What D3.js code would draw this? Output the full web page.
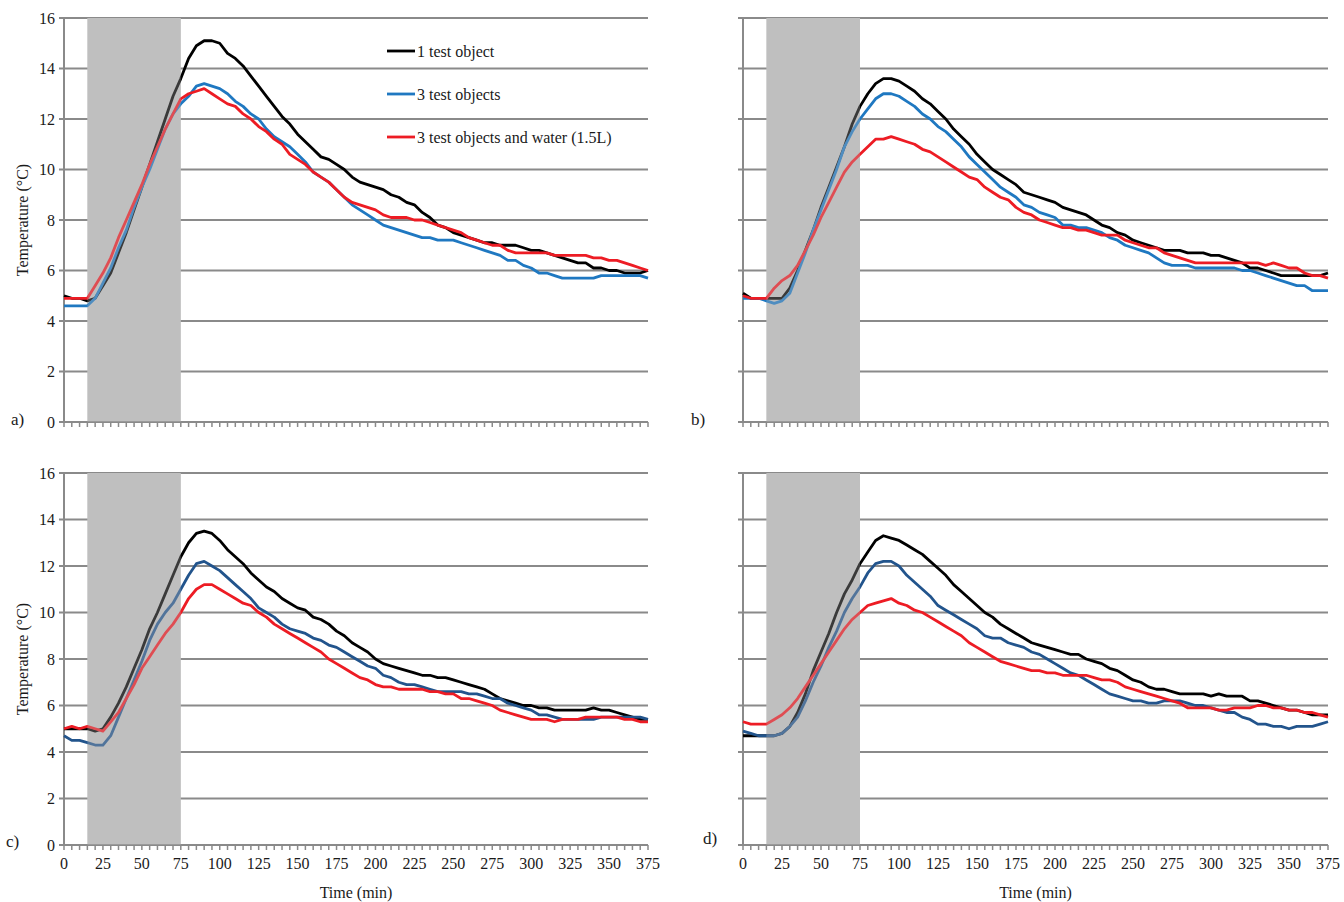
<!DOCTYPE html>
<html>
<head>
<meta charset="utf-8">
<script src="https://cdn.jsdelivr.net/npm/d3@7"></script>
<style>
  body { margin: 0; background: #fff; }
  svg text { font-family: "Liberation Serif", "Times New Roman", serif; fill: #1a1a1a; }
</style>
</head>
<body>
<svg id="chart" width="1344" height="902"></svg>
<script>
// Sampling times (min) and the cooling window shaded in every panel
const minutes = d3.range(0, 376, 5);
const coolingWindow = [15, 75];
const yTickValues = [0, 2, 4, 6, 8, 10, 12, 14, 16];
const xTickLabels = [0, 25, 50, 75, 100, 125, 150, 175, 200, 225, 250, 275, 300, 325, 350, 375];
const seriesNames = ["1 test object", "3 test objects", "3 test objects and water (1.5L)"];

// Panel a)
const aOneObject = [5.0,4.9,4.9,4.8,4.9,5.4,5.9,6.7,7.5,8.4,
  9.3,10.2,11.1,12.0,12.9,13.6,14.4,14.9,15.1,15.1,
  15.0,14.6,14.4,14.1,13.7,13.3,12.9,12.5,12.1,11.8,
  11.4,11.1,10.8,10.5,10.4,10.2,10.0,9.7,9.5,9.4,
  9.3,9.2,9.0,8.9,8.7,8.6,8.3,8.1,7.8,7.7,
  7.5,7.4,7.3,7.2,7.1,7.1,7.0,7.0,7.0,6.9,
  6.8,6.8,6.7,6.6,6.5,6.4,6.3,6.3,6.1,6.1,
  6.0,6.0,5.9,5.9,5.9,6.0];
const aThreeObjects = [4.6,4.6,4.6,4.6,4.9,5.5,6.1,6.9,7.6,8.5,
  9.3,10.0,10.8,11.6,12.2,12.6,12.9,13.3,13.4,13.3,
  13.2,13.0,12.7,12.5,12.2,12.0,11.6,11.3,11.1,10.9,
  10.6,10.3,9.9,9.7,9.5,9.2,8.9,8.6,8.4,8.2,
  8.0,7.8,7.7,7.6,7.5,7.4,7.3,7.3,7.2,7.2,
  7.2,7.1,7.0,6.9,6.8,6.7,6.6,6.4,6.4,6.2,
  6.1,5.9,5.9,5.8,5.7,5.7,5.7,5.7,5.7,5.8,
  5.8,5.8,5.8,5.8,5.8,5.7];
const aWithWater = [4.9,4.9,4.9,4.9,5.4,5.9,6.5,7.3,8.0,8.7,
  9.4,10.2,10.9,11.6,12.2,12.8,13.0,13.1,13.2,13.0,
  12.8,12.6,12.5,12.2,12.0,11.7,11.5,11.2,11.0,10.6,
  10.4,10.2,9.9,9.7,9.5,9.2,8.9,8.7,8.6,8.5,
  8.4,8.2,8.1,8.1,8.1,8.0,8.0,7.9,7.8,7.7,
  7.6,7.5,7.3,7.2,7.1,7.0,7.0,6.8,6.7,6.7,
  6.7,6.7,6.7,6.6,6.6,6.6,6.6,6.6,6.5,6.5,
  6.4,6.4,6.3,6.2,6.1,6.0];

// Panel b)
const bOneObject = [5.1,4.9,4.9,4.9,4.9,4.9,5.3,6.0,6.8,7.6,
  8.5,9.3,10.1,10.9,11.8,12.5,13.0,13.4,13.6,13.6,
  13.5,13.3,13.1,12.8,12.6,12.3,12.0,11.6,11.3,11.0,
  10.6,10.3,10.0,9.8,9.6,9.4,9.1,9.0,8.9,8.8,
  8.7,8.5,8.4,8.3,8.2,8.0,7.8,7.7,7.5,7.4,
  7.2,7.1,7.0,6.9,6.8,6.8,6.8,6.7,6.7,6.7,
  6.6,6.6,6.5,6.4,6.3,6.1,6.1,6.0,5.9,5.8,
  5.8,5.8,5.8,5.8,5.8,5.9];
const bThreeObjects = [4.9,4.9,4.9,4.8,4.7,4.8,5.1,5.9,6.7,7.6,
  8.4,9.2,10.0,10.9,11.5,12.0,12.4,12.8,13.0,13.0,
  12.9,12.7,12.5,12.2,12.0,11.7,11.5,11.2,10.9,10.5,
  10.2,9.9,9.6,9.3,9.1,8.9,8.6,8.5,8.3,8.2,
  8.1,7.8,7.8,7.7,7.7,7.6,7.5,7.3,7.2,7.0,
  6.9,6.8,6.7,6.5,6.3,6.2,6.2,6.2,6.1,6.1,
  6.1,6.1,6.1,6.1,6.0,6.0,5.9,5.8,5.7,5.6,
  5.5,5.4,5.4,5.2,5.2,5.2];
const bWithWater = [5.0,4.9,4.9,4.9,5.3,5.6,5.8,6.2,6.8,7.4,
  8.1,8.7,9.3,9.9,10.3,10.6,10.9,11.2,11.2,11.3,
  11.2,11.1,11.0,10.8,10.7,10.5,10.3,10.1,9.9,9.7,
  9.6,9.3,9.1,8.9,8.8,8.5,8.3,8.2,8.0,7.9,
  7.8,7.7,7.7,7.6,7.6,7.5,7.4,7.4,7.4,7.2,
  7.1,7.0,6.9,6.9,6.7,6.6,6.5,6.4,6.3,6.3,
  6.3,6.3,6.3,6.3,6.3,6.3,6.3,6.2,6.3,6.2,
  6.1,6.1,5.9,5.8,5.8,5.7];

// Panel c)
const cOneObject = [5.0,5.0,5.0,5.0,4.9,5.0,5.5,6.1,6.8,7.6,
  8.4,9.3,10.0,10.8,11.6,12.4,13.0,13.4,13.5,13.4,
  13.1,12.7,12.4,12.1,11.7,11.4,11.1,10.9,10.6,10.4,
  10.2,10.1,9.8,9.7,9.5,9.2,9.0,8.7,8.5,8.3,
  8.0,7.8,7.7,7.6,7.5,7.4,7.3,7.3,7.2,7.2,
  7.1,7.0,6.9,6.8,6.7,6.5,6.3,6.2,6.1,6.0,
  6.0,5.9,5.9,5.8,5.8,5.8,5.8,5.8,5.9,5.8,
  5.8,5.7,5.6,5.5,5.4,5.4];
const cThreeObjects = [4.7,4.5,4.5,4.4,4.3,4.3,4.7,5.5,6.3,7.1,
  7.9,8.8,9.5,10.0,10.4,11.0,11.6,12.1,12.2,12.0,
  11.8,11.5,11.2,10.9,10.6,10.2,10.0,9.8,9.5,9.3,
  9.2,9.1,8.9,8.8,8.6,8.5,8.3,8.1,7.9,7.7,
  7.6,7.3,7.2,7.0,6.9,6.9,6.8,6.7,6.6,6.6,
  6.6,6.6,6.5,6.5,6.4,6.3,6.3,6.1,6.0,5.9,
  5.8,5.6,5.6,5.5,5.4,5.4,5.4,5.4,5.4,5.5,
  5.5,5.5,5.5,5.5,5.5,5.4];
const cWithWater = [5.0,5.1,5.0,5.1,5.0,4.9,5.3,5.7,6.3,6.9,
  7.6,8.1,8.6,9.1,9.5,10.0,10.6,11.0,11.2,11.2,
  11.0,10.8,10.6,10.4,10.3,10.0,9.8,9.5,9.3,9.1,
  8.9,8.7,8.5,8.3,8.0,7.8,7.6,7.4,7.2,7.1,
  6.9,6.8,6.8,6.7,6.7,6.7,6.7,6.6,6.6,6.5,
  6.5,6.3,6.3,6.2,6.1,6.0,5.8,5.7,5.6,5.5,
  5.4,5.4,5.4,5.3,5.4,5.4,5.4,5.5,5.5,5.5,
  5.5,5.5,5.4,5.4,5.3,5.3];

// Panel d)
const dOneObject = [4.7,4.7,4.7,4.7,4.7,4.8,5.1,5.7,6.5,7.5,
  8.3,9.1,10.0,10.8,11.4,12.1,12.6,13.1,13.3,13.2,
  13.1,12.9,12.7,12.5,12.2,11.9,11.6,11.2,10.9,10.6,
  10.3,10.0,9.8,9.5,9.3,9.1,8.9,8.7,8.6,8.5,
  8.4,8.3,8.2,8.2,8.0,7.9,7.8,7.6,7.5,7.3,
  7.1,7.0,6.8,6.7,6.7,6.6,6.5,6.5,6.5,6.5,
  6.4,6.5,6.4,6.4,6.4,6.2,6.2,6.1,6.0,5.9,
  5.8,5.8,5.7,5.6,5.6,5.6];
const dThreeObjects = [4.9,4.8,4.7,4.7,4.7,4.8,5.1,5.5,6.2,7.0,
  7.7,8.5,9.2,10.0,10.6,11.1,11.7,12.1,12.2,12.2,
  12.0,11.6,11.3,11.0,10.7,10.3,10.1,9.9,9.7,9.5,
  9.3,9.0,8.9,8.9,8.7,8.6,8.5,8.3,8.2,8.0,
  7.8,7.6,7.4,7.3,7.1,6.9,6.7,6.5,6.4,6.3,
  6.2,6.2,6.1,6.1,6.2,6.2,6.2,6.1,6.0,6.0,
  5.9,5.8,5.7,5.7,5.5,5.4,5.2,5.2,5.1,5.1,
  5.0,5.1,5.1,5.1,5.2,5.3];
const dWithWater = [5.3,5.2,5.2,5.2,5.4,5.6,5.9,6.3,6.8,7.3,
  7.8,8.3,8.8,9.3,9.7,10.0,10.3,10.4,10.5,10.6,
  10.4,10.3,10.1,10.0,9.8,9.6,9.4,9.2,9.0,8.7,
  8.5,8.3,8.1,7.9,7.8,7.7,7.6,7.5,7.5,7.4,
  7.4,7.3,7.3,7.3,7.3,7.2,7.1,7.1,7.0,6.8,
  6.7,6.6,6.5,6.4,6.3,6.2,6.1,5.9,5.9,5.9,
  5.9,5.8,5.8,5.9,5.9,5.9,6.0,6.0,5.9,5.9,
  5.8,5.8,5.7,5.7,5.6,5.5];

// ---- drawing ----
const svg = d3.select("#chart");
const gridColor = "#8a8a8a";
const bandColor = "#bfbfbf";
const fontSize = 16;

const panels = [
  { label: "a)", left: 64,  right: 648,  bottom: 422, top: 18,  yLabels: true,  xLabels: false, legend: true,
    series: [aOneObject, aThreeObjects, aWithWater], colors: ["#000000", "#1f78c1", "#ed1c24"], labelPos: [11, 425] },
  { label: "b)", left: 743, right: 1328, bottom: 422, top: 18,  yLabels: false, xLabels: false, legend: false,
    series: [bOneObject, bThreeObjects, bWithWater], colors: ["#000000", "#1f78c1", "#ed1c24"], labelPos: [691, 425] },
  { label: "c)", left: 64,  right: 648,  bottom: 845, top: 473, yLabels: true,  xLabels: true,  legend: false,
    series: [cOneObject, cThreeObjects, cWithWater], colors: ["#000000", "#22548c", "#ed1c24"], labelPos: [6, 847] },
  { label: "d)", left: 743, right: 1328, bottom: 845, top: 473, yLabels: false, xLabels: true,  legend: false,
    series: [dOneObject, dThreeObjects, dWithWater], colors: ["#000000", "#22548c", "#ed1c24"], labelPos: [703, 844] }
];

panels.forEach(p => {
  const g = svg.append("g");
  const x = d3.scaleLinear().domain([0, 375]).range([p.left, p.right]);
  const y = d3.scaleLinear().domain([0, 16]).range([p.bottom, p.top]);

  // horizontal gridlines with short outward ticks
  g.selectAll("line.grid").data(yTickValues.filter(v => v > 0)).join("line")
    .attr("x1", p.left - 5).attr("x2", p.right)
    .attr("y1", d => y(d)).attr("y2", d => y(d))
    .attr("stroke", gridColor).attr("stroke-width", 2);

  // cooling window
  g.append("rect")
    .attr("x", x(coolingWindow[0])).attr("y", y(16))
    .attr("width", x(coolingWindow[1]) - x(coolingWindow[0]))
    .attr("height", y(0) - y(16))
    .attr("fill", bandColor);

  // y axis
  g.append("line").attr("x1", p.left).attr("x2", p.left).attr("y1", y(0)).attr("y2", y(16))
    .attr("stroke", gridColor).attr("stroke-width", 2);
  // x axis with minor ticks every 5 min
  g.append("line").attr("x1", p.left - 5).attr("x2", p.right).attr("y1", y(0)).attr("y2", y(0))
    .attr("stroke", gridColor).attr("stroke-width", 2);
  g.selectAll("line.xt").data(minutes).join("line")
    .attr("x1", d => x(d)).attr("x2", d => x(d))
    .attr("y1", y(0)).attr("y2", y(0) + 5)
    .attr("stroke", gridColor).attr("stroke-width", 1.5);

  // series lines
  const line = d3.line().x((d, i) => x(minutes[i])).y(d => y(d));
  p.series.forEach((vals, k) => {
    g.append("path").datum(vals)
      .attr("d", line)
      .attr("fill", "none")
      .attr("stroke", p.colors[k])
      .attr("stroke-width", 2.8)
      .attr("stroke-linejoin", "round");
  });

  // translucent veil so the lines look shaded inside the window
  g.append("rect")
    .attr("x", x(coolingWindow[0])).attr("y", y(16))
    .attr("width", x(coolingWindow[1]) - x(coolingWindow[0]))
    .attr("height", y(0) - y(16))
    .attr("fill", bandColor).attr("opacity", 0.3);

  if (p.yLabels) {
    g.selectAll("text.yl").data(yTickValues).join("text")
      .attr("x", p.left - 9).attr("y", d => y(d))
      .attr("text-anchor", "end").attr("dominant-baseline", "central")
      .attr("font-size", fontSize).text(d => d);
    g.append("text")
      .attr("transform", `translate(22,${(p.top + p.bottom) / 2}) rotate(-90)`)
      .attr("text-anchor", "middle").attr("dominant-baseline", "central")
      .attr("font-size", fontSize).text("Temperature (°C)");
  }
  if (p.xLabels) {
    g.selectAll("text.xl").data(xTickLabels).join("text")
      .attr("x", d => x(d)).attr("y", p.bottom + 18)
      .attr("text-anchor", "middle").attr("dominant-baseline", "central")
      .attr("font-size", fontSize).text(d => d);
    g.append("text")
      .attr("x", (p.left + p.right) / 2).attr("y", p.bottom + 47)
      .attr("text-anchor", "middle").attr("dominant-baseline", "central")
      .attr("font-size", fontSize).text("Time (min)");
  }

  g.append("text").attr("x", p.labelPos[0]).attr("y", p.labelPos[1])
    .attr("font-size", 17).text(p.label);

  if (p.legend) {
    const lg = g.append("g");
    seriesNames.forEach((name, k) => {
      const ly = 51 + k * 43;
      lg.append("line").attr("x1", 387).attr("x2", 415).attr("y1", ly).attr("y2", ly)
        .attr("stroke", p.colors[k]).attr("stroke-width", 2.8);
      lg.append("text").attr("x", 417).attr("y", ly).attr("dominant-baseline", "central")
        .attr("font-size", fontSize).text(name);
    });
  }
});
</script>
</body>
</html>
